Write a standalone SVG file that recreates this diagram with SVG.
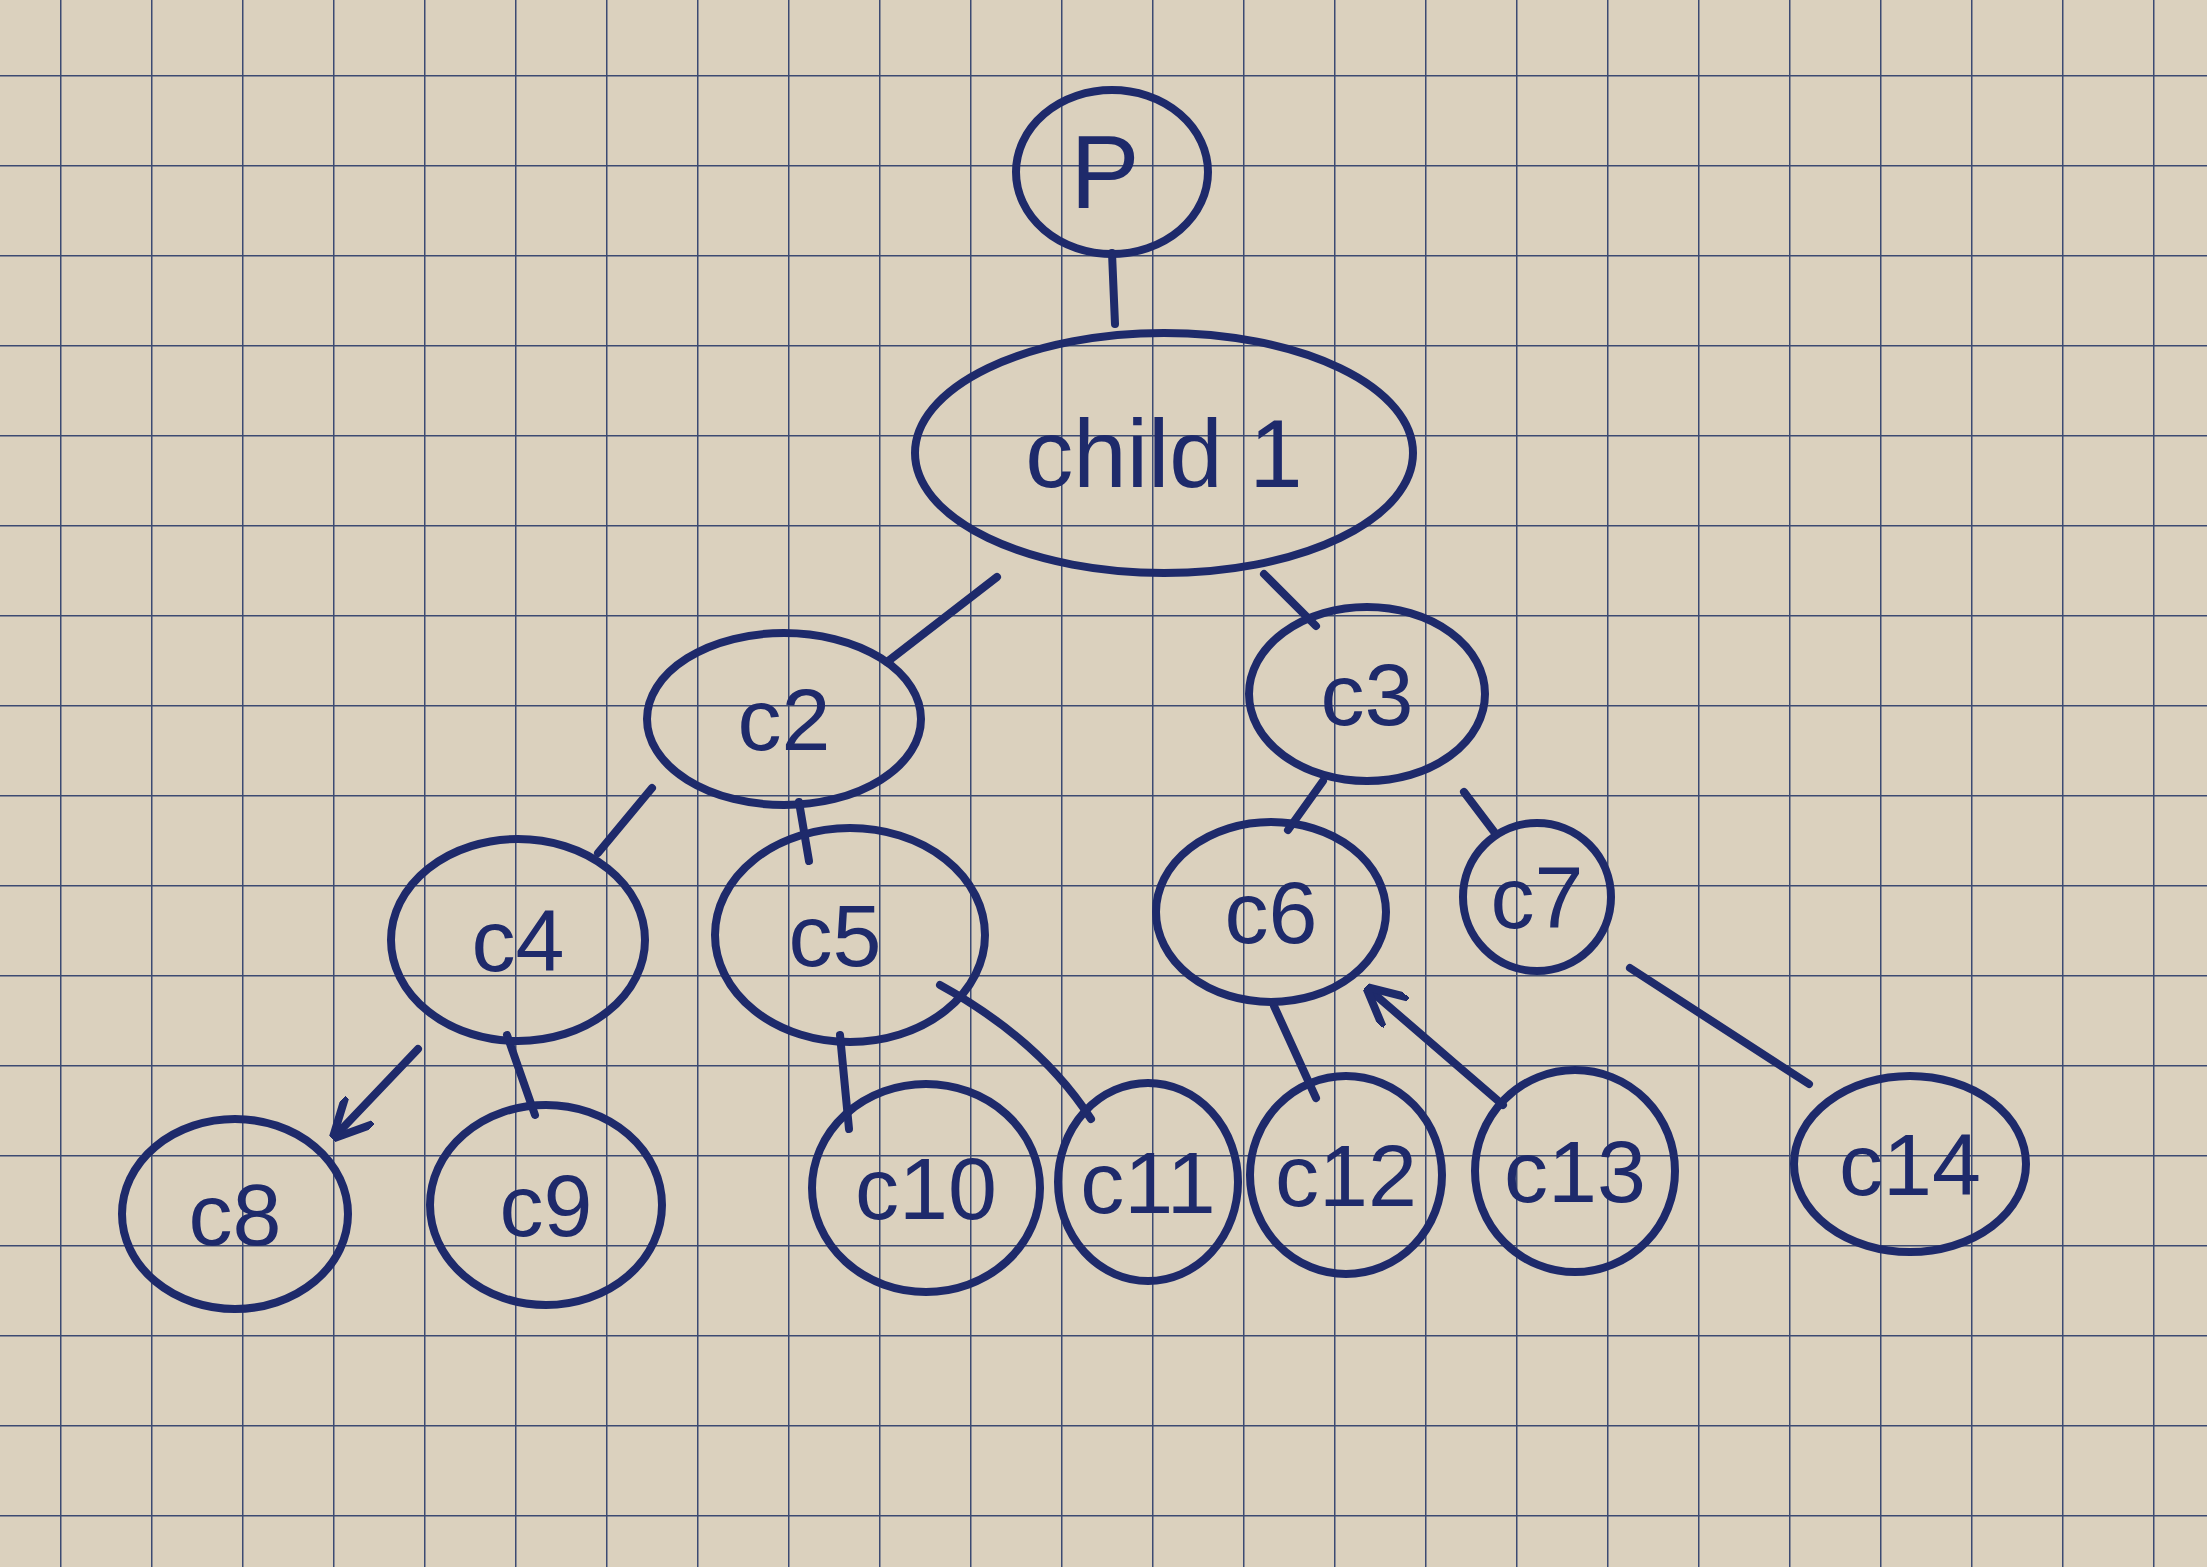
<svg xmlns="http://www.w3.org/2000/svg" width="2207" height="1567" viewBox="0 0 2207 1567">
<defs>
<pattern id="grid" x="60" y="75" width="91" height="90" patternUnits="userSpaceOnUse">
<path d="M0 0 H91 M0 0 V90" fill="none" stroke="#3c4a72" stroke-width="3"/>
</pattern>
<marker id="arr" viewBox="0 0 10 10" refX="8" refY="5" markerWidth="5" markerHeight="5" orient="auto" markerUnits="strokeWidth">
<path d="M0 0 L10 5 L0 10" fill="none" stroke="#1e2a6b" stroke-width="2"/>
</marker>
<style>
.n{fill:none;stroke:#1e2a6b;stroke-width:8}
.t{font-family:"Liberation Sans","DejaVu Sans",sans-serif;font-size:88px;fill:#1e2a6b;text-anchor:middle;dominant-baseline:central}
.e{stroke:#1e2a6b;stroke-width:8;stroke-linecap:round;fill:none}
</style>
</defs>
<rect width="2207" height="1567" fill="#dbd1be"/>
<rect width="2207" height="1567" fill="url(#grid)"/>
<g id="connectors">
<line class="e" x1="1112" y1="253" x2="1115" y2="324"/>
<line class="e" x1="997" y1="577" x2="887" y2="662"/>
<line class="e" x1="1264" y1="574" x2="1316" y2="626"/>
<line class="e" x1="652" y1="788" x2="598" y2="853"/>
<line class="e" x1="799" y1="802" x2="809" y2="861"/>
<line class="e" x1="1323" y1="781" x2="1288" y2="830"/>
<line class="e" x1="1464" y1="792" x2="1495" y2="833"/>
<line class="e" x1="418" y1="1049" x2="338" y2="1133" marker-end="url(#arr)"/>
<line class="e" x1="507" y1="1035" x2="535" y2="1115"/>
<line class="e" x1="840" y1="1035" x2="849" y2="1129"/>
<path class="e" d="M940 985 Q1040 1040 1091 1119"/>
<line class="e" x1="1274" y1="1006" x2="1316" y2="1098"/>
<line class="e" x1="1503" y1="1105" x2="1372" y2="992" marker-end="url(#arr)"/>
<line class="e" x1="1630" y1="968" x2="1809" y2="1084"/>
</g>
<g id="P"><ellipse class="n" cx="1112" cy="172" rx="96" ry="82"/><text class="t" x="1105" y="172" style="font-size:104px">P</text></g>
<g id="child1"><ellipse class="n" cx="1164" cy="453" rx="249" ry="120"/><text class="t" x="1164" y="453" style="font-size:96px">child 1</text></g>
<g id="c2"><ellipse class="n" cx="784" cy="719" rx="137" ry="86"/><text class="t" x="784" y="719">c2</text></g>
<g id="c3"><ellipse class="n" cx="1367" cy="694" rx="118" ry="87"/><text class="t" x="1367" y="694">c3</text></g>
<g id="c4"><ellipse class="n" cx="518" cy="940" rx="127" ry="101"/><text class="t" x="518" y="940">c4</text></g>
<g id="c5"><ellipse class="n" cx="850" cy="935" rx="135" ry="107"/><text class="t" x="835" y="935">c5</text></g>
<g id="c6"><ellipse class="n" cx="1271" cy="912" rx="115" ry="90"/><text class="t" x="1271" y="912">c6</text></g>
<g id="c7"><ellipse class="n" cx="1537" cy="897" rx="74" ry="74"/><text class="t" x="1537" y="897">c7</text></g>
<g id="c8"><ellipse class="n" cx="235" cy="1214" rx="113" ry="95"/><text class="t" x="235" y="1214">c8</text></g>
<g id="c9"><ellipse class="n" cx="546" cy="1205" rx="116" ry="100"/><text class="t" x="546" y="1205">c9</text></g>
<g id="c10"><ellipse class="n" cx="926" cy="1188" rx="114" ry="104"/><text class="t" x="926" y="1188">c10</text></g>
<g id="c11"><ellipse class="n" cx="1148" cy="1182" rx="90" ry="99"/><text class="t" x="1148" y="1182">c11</text></g>
<g id="c12"><ellipse class="n" cx="1346" cy="1175" rx="96" ry="99"/><text class="t" x="1346" y="1175">c12</text></g>
<g id="c13"><ellipse class="n" cx="1575" cy="1171" rx="100" ry="101"/><text class="t" x="1575" y="1171">c13</text></g>
<g id="c14"><ellipse class="n" cx="1910" cy="1164" rx="116" ry="88"/><text class="t" x="1910" y="1164">c14</text></g>
</svg>
